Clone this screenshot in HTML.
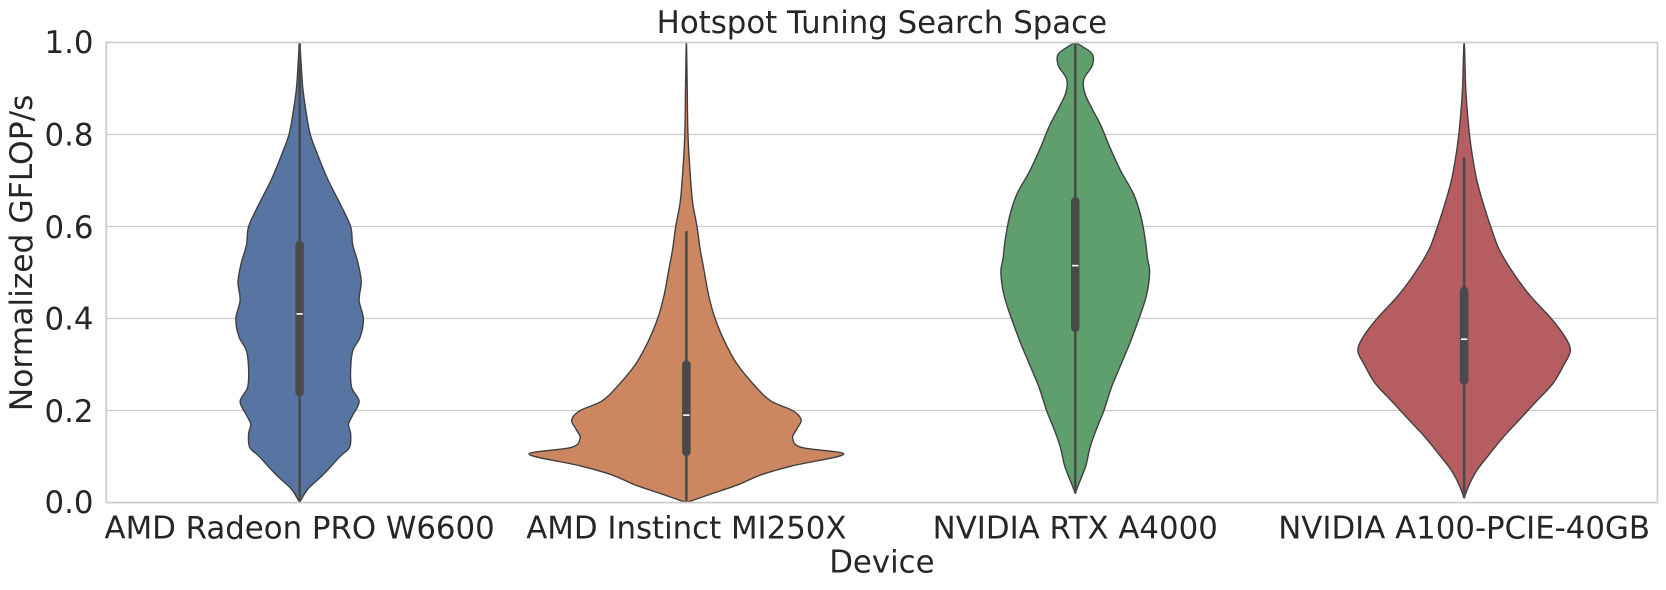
<!DOCTYPE html>
<html><head><meta charset="utf-8"><style>
html,body{margin:0;padding:0;background:#fff;}
svg{display:block;}
text{font-family:"DejaVu Sans","Liberation Sans",sans-serif;fill:#262626;}
</style></head><body>
<svg id="s" width="1666" height="590" viewBox="0 0 1568 555.3" preserveAspectRatio="none" xmlns="http://www.w3.org/2000/svg">
<g stroke="#cccccc" stroke-width="1.2">
<line x1="100" x2="1560" y1="126.6" y2="126.6"/>
<line x1="100" x2="1560" y1="213.2" y2="213.2"/>
<line x1="100" x2="1560" y1="299.8" y2="299.8"/>
<line x1="100" x2="1560" y1="386.4" y2="386.4"/>
</g>
<g id="v"></g>
<rect x="100" y="40" width="1460" height="433" fill="none" stroke="#cccccc" stroke-width="1.6"/>
<g font-size="29" text-anchor="end">
<text x="88" y="483">0.0</text>
<text x="88" y="397">0.2</text>
<text x="88" y="310">0.4</text>
<text x="88" y="224">0.6</text>
<text x="88" y="137">0.8</text>
<text x="88" y="50">1.0</text>
</g>
<g font-size="29" text-anchor="middle">
<text x="282" y="507">AMD Radeon PRO W6600</text>
<text x="646" y="507">AMD Instinct MI250X</text>
<text x="1012" y="507">NVIDIA RTX A4000</text>
<text x="1378" y="507">NVIDIA A100-PCIE-40GB</text>
<text x="830" y="539">Device</text>
<text x="830" y="31">Hotspot Tuning Search Space</text>
</g>
<text font-size="29.5" text-anchor="middle" transform="translate(30,238) rotate(-90)">Normalized GFLOP/s</text>
</svg>
<script>
function Y(v){return 473-433*v;}
var V=[
{c:282,col:"#5874a2",p:[[0,0],[0.03,8],[0.06,22],[0.1,38],[0.12,47],[0.15,48],[0.17,46],[0.19,50],[0.22,56],[0.25,49],[0.29,48],[0.33,50],[0.36,57],[0.4,60],[0.44,56],[0.48,58],[0.52,55],[0.56,50],[0.6,48],[0.65,38],[0.7,27],[0.75,18],[0.8,10],[0.85,6],[0.9,3],[0.95,1.5],[1,0]],q:[0.24,0.41,0.56],w:[0,1]},
{c:646,col:"#cc8760",p:[[0,0],[0.02,25],[0.04,50],[0.06,70],[0.08,100],[0.105,148],[0.12,108],[0.14,100],[0.16,104],[0.18,108],[0.2,100],[0.22,80],[0.25,66],[0.3,48],[0.35,36],[0.4,27],[0.45,21],[0.5,17],[0.55,13],[0.6,10],[0.65,6],[0.7,4],[0.8,1.5],[0.9,0.8],[1,0]],q:[0.11,0.19,0.30],w:[0,0.59]},
{c:1012,col:"#5f9f6e",p:[[0.02,0],[0.05,5],[0.08,10],[0.12,14],[0.16,20],[0.2,27],[0.25,34],[0.3,43],[0.35,52],[0.4,60],[0.45,67],[0.5,70],[0.53,68],[0.57,66],[0.62,62],[0.67,55],[0.72,43],[0.77,33],[0.82,24],[0.86,15],[0.89,9],[0.92,8],[0.95,16],[0.975,16],[0.995,4],[1,0]],q:[0.38,0.515,0.655],w:[0.02,1]},
{c:1378,col:"#b55d60",p:[[0.01,0],[0.04,5],[0.07,12],[0.1,22],[0.14,36],[0.18,52],[0.22,68],[0.26,84],[0.3,94],[0.33,100],[0.36,95],[0.4,82],[0.45,62],[0.5,46],[0.55,33],[0.6,25],[0.65,18],[0.7,12],[0.75,8],[0.8,5],[0.85,3],[0.9,1.5],[1,0]],q:[0.265,0.355,0.46],w:[0.01,0.75]}
];
function smooth(P){
 var d="M"+P[0][0].toFixed(1)+","+P[0][1].toFixed(1);
 for(var i=0;i<P.length-1;i++){
  var p0=P[Math.max(0,i-1)],p1=P[i],p2=P[i+1],p3=P[Math.min(P.length-1,i+2)];
  var c1=[p1[0]+(p2[0]-p0[0])/6,p1[1]+(p2[1]-p0[1])/6];
  var c2=[p2[0]-(p3[0]-p1[0])/6,p2[1]-(p3[1]-p1[1])/6];
  d+=" C"+c1[0].toFixed(1)+","+c1[1].toFixed(1)+" "+c2[0].toFixed(1)+","+c2[1].toFixed(1)+" "+p2[0].toFixed(1)+","+p2[1].toFixed(1);
 }
 return d;
}
var g=document.getElementById("v"),h="";
V.forEach(function(o){
 var R=o.p.map(function(a){return [o.c+a[1],Y(a[0])];});
 var L=o.p.slice().reverse().map(function(a){return [o.c-a[1],Y(a[0])];});
 var P=R.concat(L.slice(1));
 h+='<path d="'+smooth(P)+' Z" fill="'+o.col+'" stroke="#3f3f3f" stroke-width="1.3" stroke-linejoin="round"/>';
 h+='<line x1="'+o.c+'" x2="'+o.c+'" y1="'+Y(o.w[0])+'" y2="'+Y(o.w[1])+'" stroke="#4a4a4a" stroke-width="2.4"/>';
 h+='<line x1="'+o.c+'" x2="'+o.c+'" y1="'+Y(o.q[0])+'" y2="'+Y(o.q[2])+'" stroke="#4a4a4a" stroke-width="8" stroke-linecap="round"/>';
 h+='<line x1="'+(o.c-3)+'" x2="'+(o.c+3)+'" y1="'+Y(o.q[1])+'" y2="'+Y(o.q[1])+'" stroke="#ffffff" stroke-width="1.5"/>';
});
g.innerHTML=h;
</script>
</body></html>
